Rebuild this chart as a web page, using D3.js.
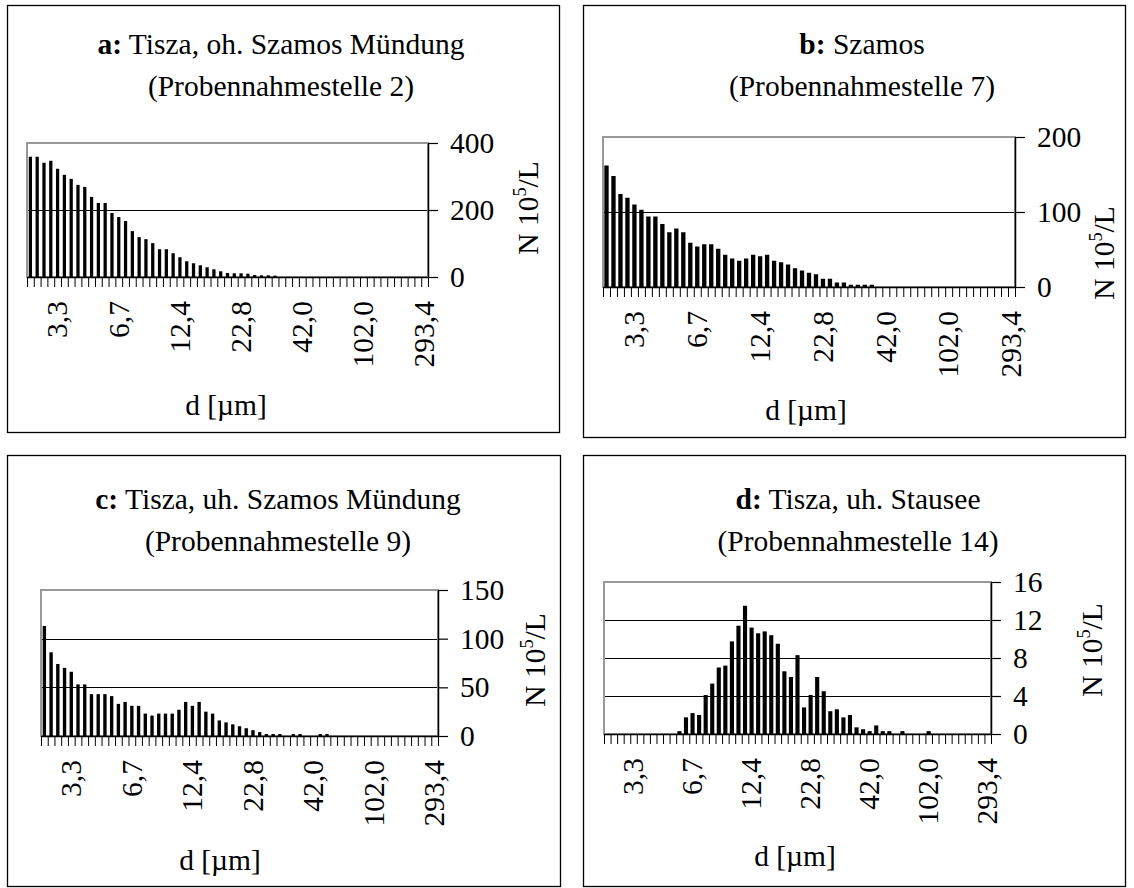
<!DOCTYPE html>
<html>
<head>
<meta charset="utf-8">
<script src="https://cdn.jsdelivr.net/npm/d3@7"></script>
<style>
  html, body { margin: 0; padding: 0; background: #fff; }
  svg { display: block; }
  text { font-family: "Liberation Serif", "Times New Roman", serif; fill: #000; }
</style>
</head>
<body>
<svg id="chart" width="1134" height="888"></svg>
<script>
// ---------------- DATA ----------------
const categoryLabels = ["3,3", "6,7", "12,4", "22,8", "42,0", "102,0", "293,4"];
const categoryCount = 59;
const labelFirst = 4, labelEvery = 9;

const panelLetters = ["a:", "b:", "c:", "d:"];
const panelTitles = [" Tisza, oh. Szamos Mündung", " Szamos", " Tisza, uh. Szamos Mündung", " Tisza, uh. Stausee"];
const panelSubtitles = ["(Probennahmestelle 2)", "(Probennahmestelle 7)", "(Probennahmestelle 9)", "(Probennahmestelle 14)"];

const yTicksA = [0, 200, 400];
const yTicksB = [0, 100, 200];
const yTicksC = [0, 50, 100, 150];
const yTicksD = [0, 4, 8, 12, 16];

const valuesA = [359,359,341,347,323,305,293,275,269,239,221,221,191,179,167,137,119,113,101,83,
                 83,71,59,47,41,35,29,23,17,12,11,11,10,6,5,5,4,0,0,0,
                 0,0,0,0,0,0,0,0,0,0,0,0,0,0,0,0,0,0,0];
const valuesB = [162,148,124,119,110,103,94,94,84,73,78,73,59,54,57,57,51,43,38,35,
                 38,43,41,43,35,33,30,25,22,19,17,11,11,6,6,3,3,3,3,0,
                 0,0,0,0,0,0,0,0,0,0,0,0,0,0,0,0,0,0,0];
const valuesC = [113,86,74,70,66,53,53,43,43,43,41,33,35,31,31,23,21,23,23,23,
                 27,35,31,35,25,23,16,14,12,10,8,6,4,2,2,2,0,2,2,0,
                 0,2,2,0,0,0,0,0,0,0,0,0,0,0,0,0,0,0,0];
const valuesD = [0,0,0,0,0,0,0,0,0,0,0,0.3,1.75,2.2,2.0,4.1,5.3,7.0,7.2,9.75,
                 11.4,13.5,11.2,10.6,10.8,10.4,9.5,6.6,6.0,8.3,2.8,4.1,6.0,4.5,2.4,2.6,1.75,2.0,0.7,0.5,
                 0.3,0.9,0.3,0.3,0,0.3,0,0,0,0.3,0,0,0,0,0,0,0,0,0];

const yTitle = "N 10";
const yTitleSup = "5";
const yTitleEnd = "/L";
const xTitle = "d [µm]";

// ---------------- LAYOUT ----------------
const FS = 29.5;
const layouts = [
  { box: [7, 5, 559, 432],   plot: [27, 143, 428, 277],  titleX: 281, t1: 54,  t2: 96,  yTitleX: 528,  yTitleY: 208, xTitleX: 226, xTitleY: 415, pad: 0.52, values: valuesA, ticks: yTicksA },
  { box: [583, 5, 1125, 437], plot: [603, 137, 1015, 287], titleX: 862, t1: 54,  t2: 96,  yTitleX: 1104, yTitleY: 253, xTitleX: 806, xTitleY: 420, pad: 0.38, values: valuesB, ticks: yTicksB },
  { box: [7, 455, 560, 886], plot: [41, 590, 438, 736],  titleX: 278, t1: 509, t2: 551, yTitleX: 535,  yTitleY: 660, xTitleX: 220, xTitleY: 870, pad: 0.5,  values: valuesC, ticks: yTicksC },
  { box: [583, 455, 1125, 886], plot: [604, 582, 991, 734], titleX: 858, t1: 509, t2: 551, yTitleX: 1092, yTitleY: 650, xTitleX: 795, xTitleY: 866, pad: 0.37, values: valuesD, ticks: yTicksD }
];

const categories = d3.range(categoryCount).map(i =>
  (i >= labelFirst && (i - labelFirst) % labelEvery === 0) ? categoryLabels[(i - labelFirst) / labelEvery] : "");

const svg = d3.select("#chart");
svg.append("rect").attr("width", 1134).attr("height", 888).attr("fill", "#fff");

layouts.forEach((L, k) => {
  const g = svg.append("g");
  const [bx0, by0, bx1, by1] = L.box;
  g.append("rect").attr("x", bx0 + 0.5).attr("y", by0 + 0.5)
    .attr("width", bx1 - bx0).attr("height", by1 - by0)
    .attr("fill", "none").attr("stroke", "#000").attr("stroke-width", 1.3);

  // titles
  const t = g.append("text").attr("x", L.titleX).attr("y", L.t1)
    .attr("text-anchor", "middle").attr("font-size", FS);
  t.append("tspan").attr("font-weight", "bold").text(panelLetters[k]);
  t.append("tspan").text(panelTitles[k]);
  g.append("text").attr("x", L.titleX).attr("y", L.t2)
    .attr("text-anchor", "middle").attr("font-size", FS).text(panelSubtitles[k]);

  const [l, tp, r, b] = L.plot;
  const ymax = d3.max(L.ticks);
  const y = d3.scaleLinear().domain([0, ymax]).range([b, tp]);
  const x = d3.scaleBand().domain(d3.range(categoryCount)).range([l, r])
    .paddingInner(L.pad).paddingOuter(L.pad / 2);
  const xl = d3.scaleLinear().domain([0, categoryCount]).range([l, r]);

  // gridlines (interior)
  g.selectAll(".grid").data(L.ticks.filter(v => v > 0 && v < ymax)).enter()
    .append("line")
    .attr("x1", l).attr("x2", r)
    .attr("y1", d => Math.round(y(d)) + 0.5).attr("y2", d => Math.round(y(d)) + 0.5)
    .attr("stroke", "#000").attr("stroke-width", 1.2);

  // plot area border (gray)
  g.append("rect").attr("x", l).attr("y", tp).attr("width", r - l).attr("height", b - tp)
    .attr("fill", "none").attr("stroke", "#999").attr("stroke-width", 2);

  // bars
  g.selectAll(".bar").data(L.values).enter().append("rect")
    .attr("x", (d, i) => x(i)).attr("width", x.bandwidth())
    .attr("y", d => y(d)).attr("height", d => b - y(d))
    .attr("fill", "#000");

  // category axis
  const xa = g.append("g").attr("transform", `translate(0,${b})`)
    .call(d3.axisBottom(xl).tickValues(d3.range(categoryCount + 1)).tickFormat("").tickSize(10).tickSizeOuter(0));
  xa.select(".domain").attr("stroke", "#000").attr("stroke-width", 1.5);
  xa.selectAll(".tick line").attr("stroke", "#000").attr("stroke-width", 1);

  // category labels (rotated)
  g.selectAll(".clab").data(categories.map((c, i) => ({ c, i })).filter(d => d.c !== "")).enter()
    .append("text")
    .attr("transform", d => `translate(${x(d.i) + x.bandwidth() / 2},${b + 24}) rotate(-90)`)
    .attr("text-anchor", "end").attr("dy", "0.33em")
    .attr("font-size", FS).text(d => d.c);

  // value axis on the right
  const ya = g.append("g").attr("transform", `translate(${r},0)`)
    .call(d3.axisRight(y).tickValues(L.ticks).tickSize(10).tickSizeOuter(0).tickPadding(12).tickFormat(d3.format("d")));
  ya.select(".domain").attr("stroke", "#000").attr("stroke-width", 1.5);
  ya.selectAll(".tick line").attr("stroke", "#000").attr("stroke-width", 1.2);
  ya.selectAll(".tick text").attr("font-size", FS).attr("font-family", "Liberation Serif, Times New Roman, serif").attr("fill", "#000");

  // y title
  const yt = g.append("text")
    .attr("transform", `translate(${L.yTitleX},${L.yTitleY}) rotate(-90)`)
    .attr("text-anchor", "middle").attr("dy", "0.35em").attr("font-size", FS);
  yt.append("tspan").text(yTitle);
  yt.append("tspan").attr("font-size", FS * 0.62).attr("dy", -FS * 0.42).text(yTitleSup);
  yt.append("tspan").attr("dy", FS * 0.42).text(yTitleEnd);

  // x title
  g.append("text").attr("x", L.xTitleX).attr("y", L.xTitleY)
    .attr("text-anchor", "middle").attr("font-size", FS).text(xTitle);
});
</script>
</body>
</html>
